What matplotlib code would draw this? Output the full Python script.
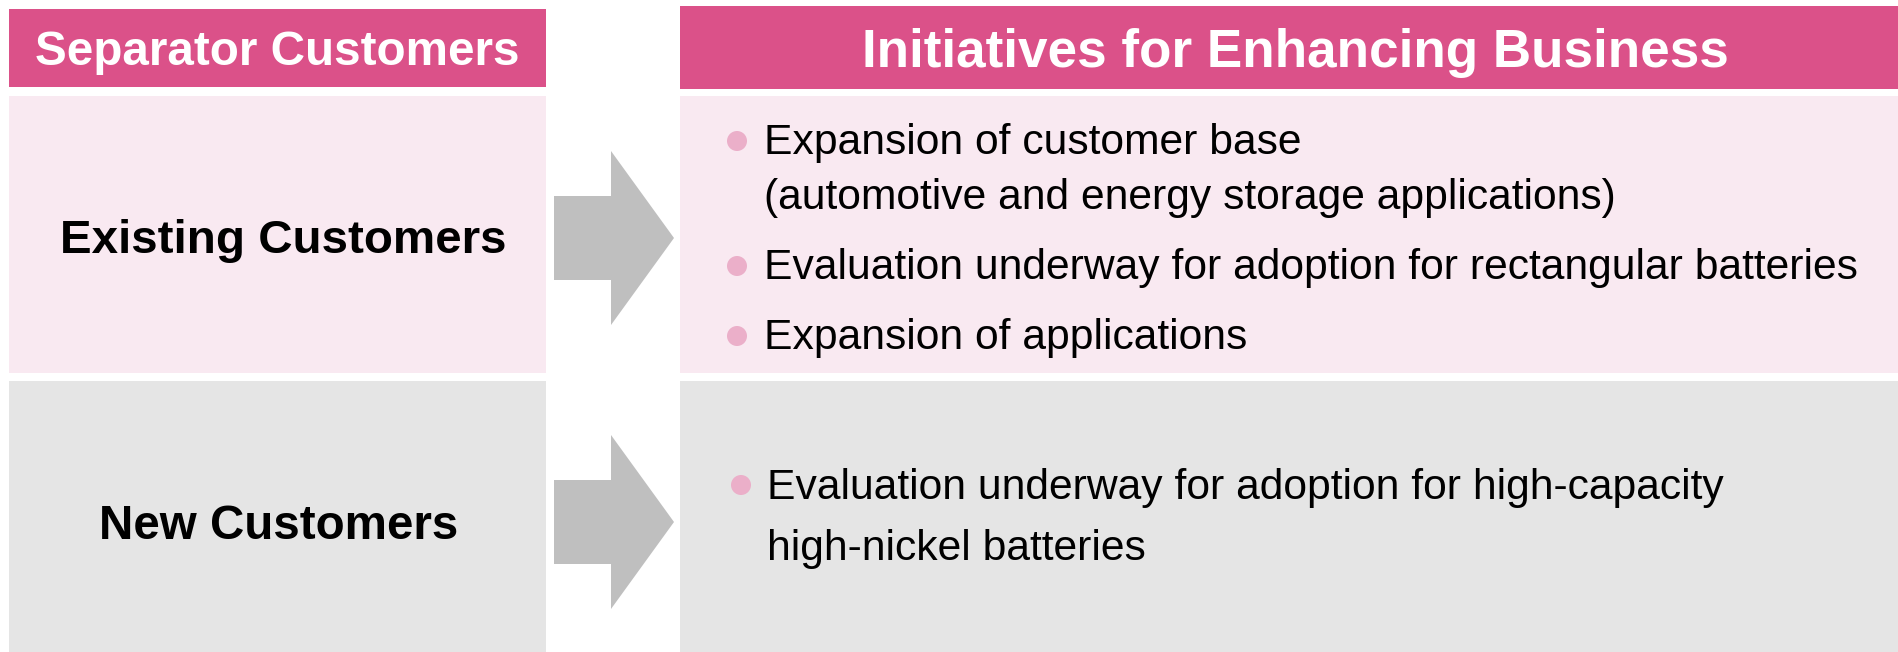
import matplotlib
matplotlib.use("Agg")
import matplotlib.pyplot as plt
from matplotlib.patches import Rectangle, Polygon, Circle
from matplotlib import font_manager as fm

# ---- content ----
left_header = "Separator Customers"
right_header = "Initiatives for Enhancing Business"
row_labels = ["Existing Customers", "New Customers"]
row1_lines = [
    ("Expansion of customer base", True),
    ("(automotive and energy storage applications)", False),
    ("Evaluation underway for adoption for rectangular batteries", True),
    ("Expansion of applications", True),
]
row2_lines = [
    ("Evaluation underway for adoption for high-capacity", True),
    ("high-nickel batteries", False),
]

# ---- styles ----
PINK = "#DB5189"
LIGHT_PINK = "#F9E9F1"
GRAY = "#E5E5E5"
ARROW = "#BFBFBF"
BULLET = "#EBAFC9"


def find_font(name, bold):
    best = None
    for f in fm.fontManager.ttflist:
        if f.name != name or f.style != "normal":
            continue
        try:
            w = int(f.weight)
        except (TypeError, ValueError):
            w = 700 if "bold" in str(f.weight).lower() else 400
        if (bold and w >= 600) or (not bold and 350 <= w <= 500):
            best = f.fname
            break
    return best


def make_prop(bold):
    for name in ("Liberation Sans", "Arimo", "Roboto", "Noto Sans"):
        p = find_font(name, bold)
        if p:
            return fm.FontProperties(fname=p)
    return fm.FontProperties(family="DejaVu Sans",
                             weight="bold" if bold else "normal")


PROP_R = make_prop(False)
PROP_B = make_prop(True)

W, H = 1898, 652
fig = plt.figure(figsize=(W / 100, H / 100), dpi=100)
ax = fig.add_axes([0, 0, 1, 1])
ax.set_xlim(0, W)
ax.set_ylim(H, 0)
ax.axis("off")
renderer = fig.canvas.get_renderer()


def fit_size(s, prop, target_w):
    p = prop.copy()
    p.set_size(20)
    t = ax.text(0, 0, s, fontproperties=p, ha="left", va="baseline")
    w = t.get_window_extent(renderer).width
    t.remove()
    return 20 * target_w / w


def place(x, yc, s, prop, size, color="black", ha="center"):
    p = prop.copy()
    p.set_size(size)
    em_px = size * 100 / 72
    baseline = yc + 0.358 * em_px
    ax.text(x, baseline, s, fontproperties=p, color=color, ha=ha, va="baseline")


# headers
ax.add_patch(Rectangle((9, 9), 537, 78, color=PINK, lw=0))
ax.add_patch(Rectangle((680, 6), W - 680, 83, color=PINK, lw=0))
place(277, 48, left_header, PROP_B, fit_size(left_header, PROP_B, 484), color="white")
place(1295, 47.5, right_header, PROP_B, fit_size(right_header, PROP_B, 867), color="white")

# row backgrounds
rows = [(96, 373, LIGHT_PINK), (381, H, GRAY)]
for (y0, y1, c) in rows:
    ax.add_patch(Rectangle((9, y0), 537, y1 - y0, color=c, lw=0))
    ax.add_patch(Rectangle((680, y0), W - 680, y1 - y0, color=c, lw=0))

# row labels
place(283, 236, row_labels[0], PROP_B, fit_size(row_labels[0], PROP_B, 445))
place(279, 522, row_labels[1], PROP_B, fit_size(row_labels[1], PROP_B, 359))

# arrows
for yc in (238, 522):
    pts = [(554, yc - 42), (611, yc - 42), (611, yc - 87), (674, yc),
           (611, yc + 87), (611, yc + 42), (554, yc + 42)]
    ax.add_patch(Polygon(pts, closed=True, color=ARROW, lw=0))

# bullet text, size fitted on the longest line
bsize = fit_size(row1_lines[2][0], PROP_R, 1093)


def bullet_block(lines, ys, x_text, x_bullet, bullet_dy):
    for (s, has_bullet), y in zip(lines, ys):
        place(x_text, y, s, PROP_R, bsize, ha="left")
        if has_bullet:
            ax.add_patch(Circle((x_bullet, y + bullet_dy), 10, color=BULLET, lw=0))


bullet_block(row1_lines, [139, 194, 264, 334], 764, 737, 2)
bullet_block(row2_lines, [484, 545], 767, 741, 1)

fig.savefig("out.png", dpi=100)
